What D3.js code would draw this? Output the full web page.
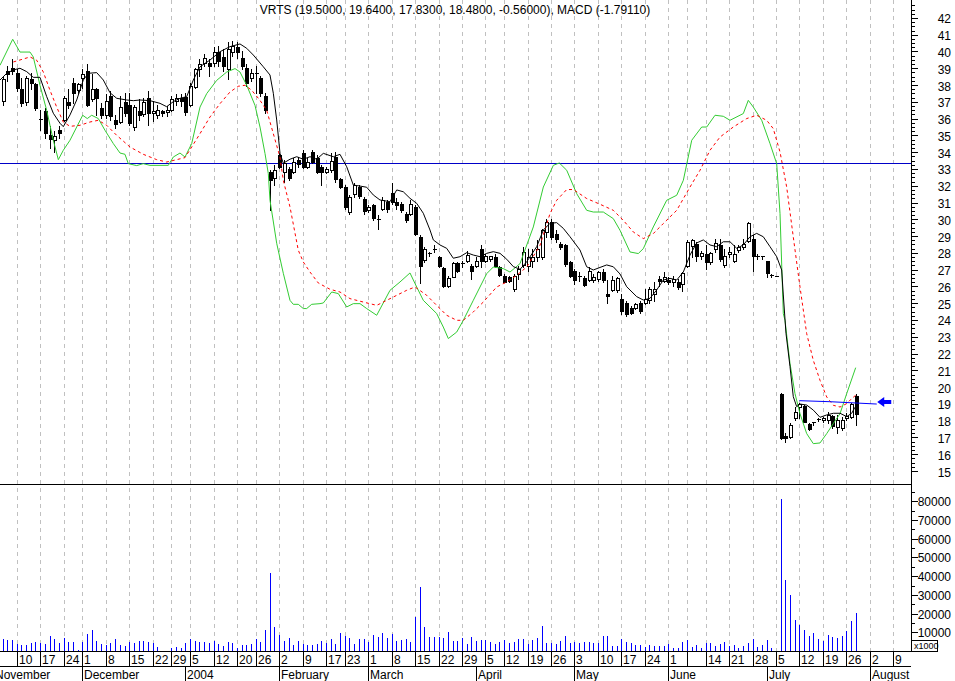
<!DOCTYPE html>
<html><head><meta charset="utf-8">
<script src="https://cdn.jsdelivr.net/npm/d3@7"></script>
<style>
html,body{margin:0;padding:0;background:#fff;}
svg{display:block;}
text{font-family:"Liberation Sans",Arial,sans-serif;fill:#000;}
</style>
</head><body>
<svg id="chart" width="955" height="681"></svg>
<script>
// ---------- DATA ----------
const title = "VRTS (19.5000, 19.6400, 17.8300, 18.4800, -0.56000), MACD (-1.79110)";
const calendarStart = "2003-11-03", calendarEnd = "2004-08-13";
const holidays = ["2003-11-27","2003-12-25","2004-01-01","2004-01-19","2004-02-16","2004-04-09","2004-05-31","2004-06-11"];
const candleStart = "2003-11-05";
const open = [37.1,38.9,39.1,38.8,37.8,37.05,38.4,38.1,36.05,36.5,35.1,34.8,35.4,36.0,37.05,38.2,37.75,38.5,38.9,37.2,37.8,36.7,36.3,37.4,36.0,35.85,37.05,36.9,35.55,36.5,36.35,37.3,36.4,36.3,36.5,36.45,36.55,37.1,37.3,37.35,36.9,37.95,39.0,39.4,39.35,39.4,40.0,39.75,39.0,40.0,40.3,39.7,39.1,38.5,38.8,38.5,37.4,32.9,32.5,33.9,32.9,33.05,32.9,33.6,34.0,33.2,34.1,33.7,33.2,32.9,33.0,33.8,32.45,32.0,30.5,31.55,32.0,31.25,30.6,30.9,30.1,30.67,31.1,31.65,31.1,30.95,30.4,30.4,30.8,29.0,27.65,28.0,28.25,27.8,27.15,26.1,26.65,27.45,27.45,27.6,27.3,27.3,28.3,27.6,27.7,27.8,27.2,26.7,26.6,25.9,26.8,27.35,27.3,27.6,27.8,27.8,29.3,29.9,29.2,28.6,28.5,27.5,27.0,26.7,26.55,26.45,26.45,26.5,26.9,25.6,25.85,25.85,25.3,25.1,24.8,24.8,25.1,25.1,25.25,25.6,26.5,26.4,26.45,26.3,26.35,26.2,27.3,28.45,28.6,27.85,28.0,27.5,28.27,28.5,27.35,28.0,27.55,28.25,28.4,28.75,28.9,27.85,27.85,27.55,26.75,26.7,19.65,17.15,17.1,18.2,18.85,18.95,17.85,17.95,18.15,18.1,18.1,18.35,17.7,17.6,18.2,18.3,19.5];
const high = [38.6,39.2,39.6,39.0,38.5,38.6,38.8,38.2,36.6,36.7,35.6,35.3,35.6,37.4,37.8,38.5,38.2,39.0,39.3,38.7,37.9,37.0,37.5,37.7,36.3,37.4,37.6,37.6,36.9,37.2,37.3,37.7,37.1,36.9,36.6,36.8,37.4,37.5,37.5,37.6,38.2,39.1,39.6,39.9,39.6,40.3,40.4,40.2,40.6,40.7,40.6,40.1,39.3,39.0,39.2,38.6,37.6,33.0,33.3,34.0,33.6,33.2,33.7,33.8,34.2,33.7,34.2,33.9,33.3,33.2,34.0,34.05,32.5,32.1,31.5,32.2,32.1,31.4,30.9,31.0,30.3,31.4,31.2,32.2,31.3,31.1,30.5,31.2,30.9,29.1,28.4,28.1,28.5,27.9,27.2,26.7,27.5,27.5,27.6,28.2,27.4,27.8,28.5,28.0,27.9,28.0,27.3,26.8,26.7,26.8,27.3,28.4,28.3,28.3,28.8,29.5,30.1,30.05,29.4,28.7,28.6,27.6,27.1,26.9,26.7,27.2,26.8,27.0,27.1,26.45,26.7,26.6,25.6,25.2,24.9,25.1,25.2,25.9,26.0,26.3,26.7,26.9,26.6,26.7,26.5,26.9,28.8,28.9,28.7,28.2,28.5,28.1,28.9,28.9,28.3,28.4,28.5,28.5,28.9,29.9,29.1,28.0,27.9,27.6,26.8,26.7,19.7,17.3,17.9,18.9,19.1,19.0,17.9,18.0,18.2,18.3,18.6,18.4,18.4,18.3,18.5,19.1,19.64];
const low = [36.9,38.3,38.7,37.7,36.8,36.9,37.8,36.6,35.4,34.9,34.3,34.1,34.9,35.9,36.7,37.0,37.6,37.9,36.8,37.1,36.3,36.1,36.1,36.0,35.5,35.8,36.2,35.7,35.4,36.0,36.2,35.7,35.9,36.1,36.2,36.2,36.5,36.9,36.8,36.3,36.8,37.9,38.6,39.2,38.6,39.2,39.2,38.9,38.4,39.8,39.7,39.0,38.0,38.3,37.6,37.4,36.4,30.6,32.1,33.1,32.3,32.4,32.8,33.2,33.1,33.1,33.4,32.8,32.1,32.8,32.9,32.3,31.9,30.7,30.4,31.4,31.3,30.4,30.5,30.0,29.5,30.6,30.5,31.0,30.7,30.5,29.9,30.3,29.1,26.25,27.5,27.9,28.1,27.2,26.0,26.0,26.6,26.9,27.2,27.5,26.5,27.2,27.2,27.5,27.6,27.2,26.7,26.3,26.3,25.8,26.5,27.2,27.0,27.2,27.6,27.7,29.0,28.9,28.7,28.3,27.3,26.6,26.2,26.4,26.1,26.4,26.3,26.4,26.3,25.1,25.8,25.7,24.4,24.3,24.4,24.7,24.5,25.0,25.1,25.2,26.1,26.3,26.2,26.1,25.9,25.8,27.2,27.8,27.6,27.7,27.1,27.4,28.1,27.6,27.2,27.8,27.5,28.1,28.3,28.7,27.0,27.7,27.7,26.6,26.6,26.7,16.95,16.8,17.05,18.1,18.2,17.95,17.5,17.8,18.05,18.0,17.9,17.6,17.3,17.5,18.1,18.2,17.83];
const close = [38.4,38.7,38.9,37.9,37.0,38.5,38.2,36.7,35.95,35.2,34.85,35.0,35.2,37.3,36.9,37.6,38.1,38.7,36.9,37.8,37.3,36.3,37.1,36.2,35.75,36.75,36.4,35.8,36.75,36.3,37.05,36.4,36.5,36.6,36.4,36.55,37.2,37.3,37.1,36.45,38.0,39.0,39.3,39.7,39.2,40.0,39.5,39.2,40.2,40.4,40.0,39.2,38.2,38.8,38.7,37.6,36.6,32.4,33.0,33.2,33.4,32.5,33.5,33.35,33.2,33.5,33.5,32.9,32.86,33.05,33.55,32.45,32.0,30.8,31.4,32.1,31.45,30.55,30.77,30.15,30.06,31.2,30.65,31.1,30.9,30.6,30.0,31.0,29.2,27.25,28.3,28.05,28.3,27.3,26.1,26.55,27.45,26.95,27.4,27.95,27.0,27.6,27.6,27.85,27.85,27.25,26.75,26.35,26.4,26.7,27.1,28.1,27.8,27.8,28.3,29.4,29.9,29.0,28.9,28.4,27.4,26.7,26.45,26.6,26.15,27.0,26.65,26.9,26.45,25.5,26.45,26.55,24.6,24.4,24.5,25.0,24.6,25.3,25.9,25.9,26.4,26.65,26.35,26.5,26.05,26.85,28.7,28.8,27.85,28.05,27.5,28.05,28.63,27.7,27.9,28.1,28.0,28.43,28.6,29.82,27.9,27.8,27.8,26.84,26.7,26.7,17.05,17.05,17.8,18.55,19.05,18.0,17.55,17.9,18.1,18.2,18.4,17.75,18.1,18.1,18.35,19.05,18.48];
// volume, thousands of shares
const volume = [6.4,5.7,5.9,3.9,3.4,3.4,4.4,5.0,4.4,3.9,8.2,6.6,4.4,7.1,5.0,5.0,0.7,5.0,9.3,11.4,5.5,3.9,3.4,4.4,6.6,3.4,2.8,5.0,4.4,5.5,5.5,5.0,4.4,2.3,0,0,1.8,2.3,1.8,4.4,6.6,5.5,5.0,5.0,4.4,5.5,3.9,2.8,5.0,4.4,1.8,3.4,3.4,3.9,6.6,5.0,11.4,41.7,13.0,8.7,5.5,7.1,3.4,5.5,3.9,3.4,3.4,3.9,5.5,4.4,6.6,3.9,9.8,8.2,7.1,3.9,6.6,6.6,5.0,8.7,7.7,9.8,7.1,9.3,5.5,6.0,6.6,5.0,18.2,34.0,13.0,7.7,7.7,7.7,7.1,10.3,5.5,5.5,7.1,3.9,7.7,5.5,6.0,5.7,5.0,3.9,5.0,6.0,4.4,5.0,6.6,6.6,3.9,6.0,7.1,13.5,4.4,4.4,3.9,5.5,8.2,4.4,5.0,4.4,5.0,5.0,4.4,4.4,8.2,8.2,2.8,2.8,6.6,5.0,4.4,3.4,3.4,2.3,3.4,2.8,2.8,2.8,3.9,1.8,1.8,5.0,6.0,2.3,3.4,1.8,4.4,4.4,2.8,3.9,5.0,2.8,3.4,1.8,2.8,4.4,6.6,2.3,3.4,6.0,1.8,0,81.4,38.1,30.1,16.7,13.8,11.4,8.2,9.8,6.6,5.5,8.7,7.7,7.1,8.2,10.9,16.2,20.5];
// short moving average [trading-day index, price]
const maLine = [[1.44,38.36],[2.87,38.76],[4.28,38.96],[5.70,39.06],[7.13,38.86],[8.54,38.52],[9.97,38.52],[11.40,37.37],[12.81,36.38],[14.24,35.78],[14.94,35.58],[16.37,36.28],[17.80,37.17],[19.21,38.36],[20.28,38.76],[22.07,38.80],[23.48,38.36],[24.91,37.60],[26.34,37.27],[28.47,37.17],[29.88,37.13],[31.31,37.17],[33.44,37.13],[35.57,36.97],[37.0,36.77],[38.41,37.07],[39.84,37.27],[41.27,37.37],[42.68,38.36],[44.11,39.15],[46.24,39.55],[48.38,40.05],[50.51,40.35],[52.64,40.51],[54.07,40.25],[55.48,39.85],[57.61,39.15],[59.04,38.66],[59.75,37.57],[60.47,35.98],[61.18,33.99],[61.88,33.40],[63.31,33.64],[64.74,33.79],[66.15,33.64],[67.58,33.79],[69.01,33.64],[70.42,33.99],[72.55,33.79],[73.98,33.93],[75.41,33.19],[76.82,32.10],[78.25,32.04],[79.67,31.97],[81.08,31.51],[82.51,31.21],[84.65,31.11],[86.08,31.81],[87.48,31.70],[88.91,31.31],[90.34,31.01],[91.75,30.42],[93.18,29.42],[93.89,28.83],[95.31,28.53],[96.74,28.33],[98.15,27.74],[99.58,27.83],[101.01,28.07],[102.42,27.93],[103.85,27.83],[105.28,28.03],[106.69,28.13],[108.12,28.03],[109.55,27.68],[110.96,27.24],[112.39,27.08],[113.81,27.53],[115.95,28.43],[117.36,29.42],[118.78,29.82],[120.21,29.86],[121.62,29.52],[123.05,29.02],[125.18,28.23],[126.61,27.23],[128.02,27.04],[129.45,27.19],[130.88,27.34],[132.29,27.23],[133.72,26.80],[135.15,26.04],[137.28,25.45],[138.69,25.25],[140.12,25.35],[141.55,25.85],[142.96,26.44],[144.39,26.54],[145.82,26.44],[147.23,26.92],[148.65,27.93],[150.08,28.65],[151.49,28.83],[152.92,28.53],[154.35,28.43],[155.76,28.72],[157.19,28.72],[158.62,28.33],[160.03,28.53],[161.46,29.02],[162.88,29.22],[164.29,29.02],[165.72,28.43],[167.15,27.83],[168.21,27.04],[168.56,25.55],[169.13,23.27],[169.99,21.28],[170.69,19.49],[171.42,18.89],[172.12,19.05],[173.55,18.99],[174.96,18.69],[176.39,18.26],[177.82,18.40],[179.23,18.50],[180.66,18.50],[182.09,18.30],[183.15,18.50],[183.86,18.86]];
// MACD line [trading-day index, value]
const macdLine = [[1.44,0.859],[4.15,1.087],[5.70,0.975],[7.84,0.975],[8.54,0.932],[9.97,0.684],[11.40,0.464],[12.81,0.202],[13.88,0.032],[14.94,0.114],[16.37,0.202],[17.80,0.318],[19.08,0.421],[20.06,0.392],[21.0,0.421],[22.41,0.392],[23.84,0.289],[25.61,0.173],[27.04,0.090],[28.1,0.079],[28.81,-0.003],[30.6,-0.020],[32.0,-0.003],[33.44,-0.018],[37.35,-0.018],[38.41,0.055],[39.84,0.090],[40.91,0.055],[42.34,0.173],[44.11,0.493],[45.54,0.611],[47.67,0.727],[49.81,0.800],[51.58,0.830],[52.64,0.800],[54.07,0.684],[55.84,0.508],[56.91,0.318],[57.98,0.085],[58.68,-0.090],[59.04,-0.324],[60.47,-0.701],[61.88,-0.964],[63.31,-1.201],[64.01,-1.236],[65.08,-1.236],[66.15,-1.273],[66.87,-1.273],[67.94,-1.236],[69.71,-1.230],[70.42,-1.224],[72.21,-1.128],[73.62,-1.142],[75.41,-1.259],[76.82,-1.230],[78.25,-1.230],[79.67,-1.273],[81.81,-1.332],[84.65,-1.113],[86.78,-1.040],[88.91,-0.961],[89.98,-1.054],[91.75,-1.201],[94.61,-1.317],[96.02,-1.435],[97.09,-1.536],[98.88,-1.479],[100.29,-1.376],[102.42,-1.201],[105.28,-0.967],[106.69,-0.909],[108.83,-0.923],[110.25,-0.953],[112.39,-0.879],[115.22,-0.558],[117.36,-0.208],[119.49,-0.018],[120.77,0.003],[122.35,-0.061],[124.48,-0.266],[126.61,-0.412],[128.02,-0.427],[130.16,-0.427],[132.29,-0.485],[133.72,-0.587],[135.85,-0.777],[137.62,-0.791],[138.69,-0.748],[140.82,-0.558],[143.68,-0.324],[145.82,-0.280],[147.23,-0.149],[149.02,0.202],[151.15,0.318],[152.22,0.318],[153.99,0.421],[155.76,0.412],[157.19,0.377],[160.03,0.436],[161.09,0.552],[162.16,0.493],[163.95,0.377],[165.72,0.173],[167.15,-0.003],[167.86,-0.441],[168.56,-1.317],[168.92,-1.376],[169.99,-1.755],[171.05,-2.018],[172.12,-2.194],[173.55,-2.369],[174.96,-2.457],[176.39,-2.451],[177.82,-2.369],[179.23,-2.281],[180.66,-2.194],[182.09,-2.018],[184,-1.7911]];
// MACD signal line [trading-day index, value]
const signalLine = [[4.28,0.888],[7.84,0.932],[9.27,0.903],[10.68,0.800],[12.10,0.640],[13.53,0.493],[14.94,0.362],[16.37,0.324],[18.50,0.333],[20.64,0.362],[22.41,0.377],[24.2,0.333],[26.34,0.245],[29.17,0.143],[32.0,0.079],[34.87,0.032],[37.0,0.011],[39.14,0.032],[40.91,0.050],[42.34,0.143],[44.11,0.260],[46.24,0.406],[48.38,0.523],[50.51,0.625],[52.28,0.675],[53.71,0.684],[55.14,0.640],[56.91,0.552],[58.34,0.464],[59.75,0.260],[61.17,0.055],[61.88,-0.149],[63.31,-0.383],[65.08,-0.762],[66.15,-0.865],[67.58,-0.953],[69.35,-1.049],[71.84,-1.104],[73.98,-1.128],[76.11,-1.186],[78.95,-1.216],[81.81,-1.245],[83.94,-1.201],[86.08,-1.157],[88.21,-1.113],[89.98,-1.084],[92.48,-1.157],[94.61,-1.245],[96.74,-1.332],[98.88,-1.376],[100.29,-1.376],[102.42,-1.303],[104.55,-1.216],[107.41,-1.084],[109.55,-1.040],[111.68,-0.982],[113.81,-0.909],[116.65,-0.719],[118.78,-0.441],[120.21,-0.324],[122.35,-0.230],[123.76,-0.230],[126.62,-0.309],[129.46,-0.359],[132.29,-0.412],[134.43,-0.500],[136.56,-0.602],[138.69,-0.660],[140.82,-0.616],[142.96,-0.528],[145.82,-0.412],[148.65,-0.208],[150.79,-0.061],[152.92,0.114],[155.05,0.230],[157.89,0.318],[160.75,0.392],[162.88,0.421],[165.01,0.377],[166.42,0.304],[167.86,0.099],[169.28,-0.208],[170.69,-0.646],[172.12,-1.084],[173.55,-1.493],[174.96,-1.727],[176.39,-1.902],[177.82,-2.048],[179.23,-2.121],[180.66,-2.136],[182.09,-2.106],[183.15,-2.062],[184,-2.033]];
// drawn trendline + marker [trading-day index, price]
const trendLine = [[172,19.25],[178.5,19.19],[188.5,19.05]];
const arrowMark = [188.6, 19.17];
const priceTicks = d3.range(15, 43);
const volumeTicks = [10,20,30,40,50,60,70,80];
const weekTicks = [["2003-11-10","10"],["2003-11-17","17"],["2003-11-24","24"],["2003-12-01","1"],["2003-12-08","8"],["2003-12-15","15"],["2003-12-22","22"],["2003-12-29","29"],["2004-01-05","5"],["2004-01-12","12"],["2004-01-20","20"],["2004-01-26","26"],["2004-02-02","2"],["2004-02-09","9"],["2004-02-17","17"],["2004-02-23","23"],["2004-03-01","1"],["2004-03-08","8"],["2004-03-15","15"],["2004-03-22","22"],["2004-03-29","29"],["2004-04-05","5"],["2004-04-12","12"],["2004-04-19","19"],["2004-04-26","26"],["2004-05-03","3"],["2004-05-10","10"],["2004-05-17","17"],["2004-05-24","24"],["2004-06-01","1"],["2004-06-07",""],["2004-06-14","14"],["2004-06-21","21"],["2004-06-28","28"],["2004-07-05","5"],["2004-07-12","12"],["2004-07-19","19"],["2004-07-26","26"],["2004-08-02","2"],["2004-08-09","9"]];
const monthTicks = [["2003-11-03","November"],["2003-12-01","December"],["2004-01-02","2004"],["2004-02-02","February"],["2004-03-01","March"],["2004-04-01","April"],["2004-05-03","May"],["2004-06-01","June"],["2004-07-01","July"],["2004-08-02","August"]];
const macdZero = 0;

// ---------- LAYOUT ----------
const W = 955, H = 681;
const plotRight = 911;
const priceBottom = 484, volBottom = 651, dayRowBottom = 666;

const hol = new Set(holidays);
const days = [];
for (let d = new Date(calendarStart + "T00:00:00Z"); d <= new Date(calendarEnd + "T00:00:00Z"); d.setUTCDate(d.getUTCDate() + 1)) {
  const wd = d.getUTCDay(), s = d.toISOString().slice(0, 10);
  if (wd === 0 || wd === 6 || hol.has(s)) continue;
  days.push(s);
}
const dayIdx = new Map(days.map((d, i) => [d, i]));
const step = 4.687;
const x = d3.scaleLinear().domain([0, days.length - 1]).range([-6.735, -6.735 + (days.length - 1) * step]);
const yP = d3.scaleLinear().domain([15, 42]).range([472, 472 - 27 * 16.78]);
const yM = d3.scaleLinear().domain([0, -1]).range([163.3, 163.3 + 114.1]);
const yV = d3.scaleLinear().domain([0, 80]).range([651, 651 - 8 * 18.71]);

const svg = d3.select("#chart");
svg.append("rect").attr("width", W).attr("height", H).attr("fill", "#fff");
const defs = svg.append("defs");
defs.append("clipPath").attr("id", "cp").append("rect").attr("x", 0).attr("y", 0).attr("width", plotRight).attr("height", priceBottom);
defs.append("clipPath").attr("id", "cv").append("rect").attr("x", 0).attr("y", priceBottom).attr("width", plotRight).attr("height", volBottom - priceBottom);

const px = k => Math.round(x(k));

// week gridlines
const grid = svg.append("g");
weekTicks.forEach(([d]) => {
  const xx = px(dayIdx.get(d)) + 0.5;
  grid.append("line").attr("x1", xx).attr("x2", xx).attr("y1", 0).attr("y2", volBottom)
    .attr("stroke", "#c0c0c0").attr("stroke-dasharray", "4,4");
});

const pg = svg.append("g").attr("clip-path", "url(#cp)");
// MACD zero line
pg.append("line").attr("x1", 0).attr("x2", plotRight).attr("y1", Math.round(yM(macdZero)) + 0.5).attr("y2", Math.round(yM(macdZero)) + 0.5)
  .attr("stroke", "#0000c8").attr("stroke-width", 1);

// candles
const k0 = dayIdx.get(candleStart);
open.forEach((o, j) => {
  const h = high[j], l = low[j], c = close[j];
  const cx = px(k0 + j);
  const yh = Math.round(yP(h)), yl = Math.round(yP(l));
  const yo = Math.round(yP(o)), yc = Math.round(yP(c));
  pg.append("line").attr("x1", cx + 0.5).attr("x2", cx + 0.5).attr("y1", yh).attr("y2", yl + 1).attr("stroke", "#000");
  const top = Math.min(yo, yc), bh = Math.abs(yo - yc);
  if (bh < 2) {
    pg.append("rect").attr("x", cx - 1).attr("y", top).attr("width", 4).attr("height", Math.max(1, bh)).attr("fill", "#000");
  } else if (c < o) {
    pg.append("rect").attr("x", cx - 1).attr("y", top).attr("width", 4).attr("height", bh + 1).attr("fill", "#000");
  } else {
    pg.append("rect").attr("x", cx - 0.5).attr("y", top + 0.5).attr("width", 3).attr("height", bh).attr("fill", "#fff").attr("stroke", "#000");
  }
});

const lineGen = (ys) => d3.line().x(d => x(d[0])).y(d => ys(d[1]));
pg.append("path").datum(macdLine).attr("d", lineGen(yM)).attr("fill", "none").attr("stroke", "#33cc33").attr("stroke-width", 1);
pg.append("path").datum(signalLine).attr("d", lineGen(yM)).attr("fill", "none").attr("stroke", "#ff0000").attr("stroke-width", 1).attr("stroke-dasharray", "3,3");
pg.append("path").datum(maLine).attr("d", lineGen(yP)).attr("fill", "none").attr("stroke", "#000").attr("stroke-width", 1);

// trendline + arrow
pg.append("path").datum(trendLine).attr("d", lineGen(yP)).attr("fill", "none").attr("stroke", "#0000ff").attr("stroke-width", 1);
const ax = x(arrowMark[0]), ay = yP(arrowMark[1]);
pg.append("path").attr("d", `M${ax},${ay} L${ax+7},${ay-5} L${ax+7},${ay-2} L${ax+14},${ay-2} L${ax+14},${ay+2} L${ax+7},${ay+2} L${ax+7},${ay+5} Z`).attr("fill", "#0000ff");

// volume
const vg = svg.append("g").attr("clip-path", "url(#cv)");
volume.forEach((v, j) => {
  if (!v) return;
  const cx = px(k0 + j) + 0.5;
  vg.append("line").attr("x1", cx).attr("x2", cx).attr("y1", volBottom).attr("y2", Math.round(yV(v))).attr("stroke", "#0000ff");
});

// frame lines
const fr = svg.append("g").attr("stroke", "#000").attr("shape-rendering", "crispEdges");
fr.append("line").attr("x1", 0).attr("x2", plotRight).attr("y1", priceBottom + 0.5).attr("y2", priceBottom + 0.5);
fr.append("line").attr("x1", 0).attr("x2", plotRight).attr("y1", volBottom + 0.5).attr("y2", volBottom + 0.5);
fr.append("line").attr("x1", 0).attr("x2", plotRight).attr("y1", dayRowBottom + 0.5).attr("y2", dayRowBottom + 0.5);
fr.append("line").attr("x1", plotRight + 0.5).attr("x2", plotRight + 0.5).attr("y1", 0).attr("y2", volBottom + 1);

// right price axis
priceTicks.forEach(v => {
  const yy = Math.round(yP(v)) - 1 + 0.5;
  fr.append("line").attr("x1", plotRight).attr("x2", plotRight + 7).attr("y1", yy).attr("y2", yy);
  [0.25, 0.5, 0.75].forEach(f => {
    if (v + f > 42.9) return;
    const ym = Math.round(yP(v + f)) - 1 + 0.5;
    fr.append("line").attr("x1", plotRight).attr("x2", plotRight + 4).attr("y1", ym).attr("y2", ym);
  });
  svg.append("text").attr("x", 951).attr("y", yP(v) + 0.5).attr("text-anchor", "end").attr("dominant-baseline", "central")
    .attr("font-size", 12).text(v);
});
// right volume axis
volumeTicks.forEach(v => {
  const yy = Math.round(yV(v)) + 0.5;
  fr.append("line").attr("x1", plotRight).attr("x2", plotRight + 7).attr("y1", yy).attr("y2", yy);
  const ym = Math.round(yV(v - 5)) + 0.5;
  fr.append("line").attr("x1", plotRight).attr("x2", plotRight + 4).attr("y1", ym).attr("y2", ym);
  svg.append("text").attr("x", 951).attr("y", yV(v) + 1).attr("text-anchor", "end").attr("dominant-baseline", "central")
    .attr("font-size", 12).text(v * 1000);
});
{
  const ym = Math.round(yV(85)) + 0.5;
  fr.append("line").attr("x1", plotRight).attr("x2", plotRight + 4).attr("y1", ym).attr("y2", ym);
}
svg.append("rect").attr("x", plotRight + 0.5).attr("y", 640.5).attr("width", 26).attr("height", 11).attr("fill", "#fff").attr("stroke", "#000");
svg.append("text").attr("x", plotRight + 3).attr("y", 649).attr("font-size", 9).text("x1000");

// date axis
weekTicks.forEach(([d, lab]) => {
  const xx = px(dayIdx.get(d)) + 0.5;
  fr.append("line").attr("x1", xx).attr("x2", xx).attr("y1", volBottom).attr("y2", dayRowBottom);
  svg.append("text").attr("x", xx + 1.5).attr("y", 664).attr("font-size", 12).text(lab);
});
monthTicks.forEach(([d, lab]) => {
  const xx = px(dayIdx.get(d)) + 0.5;
  fr.append("line").attr("x1", xx).attr("x2", xx).attr("y1", dayRowBottom).attr("y2", H);
  svg.append("text").attr("x", xx + 1.5).attr("y", 679).attr("font-size", 12).text(lab);
});

// title
svg.append("text").attr("x", 455).attr("y", 14).attr("text-anchor", "middle").attr("font-size", 12).text(title);
</script>
</body></html>
